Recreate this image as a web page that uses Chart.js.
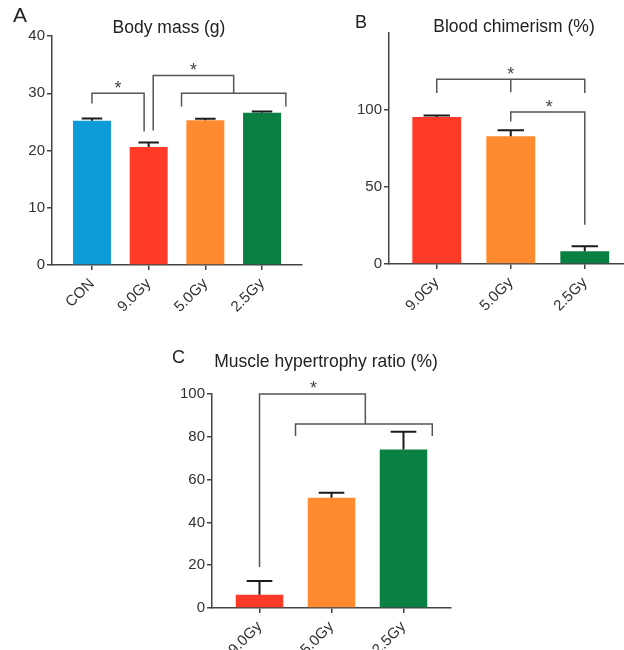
<!DOCTYPE html>
<html>
<head>
<meta charset="utf-8">
<script src="https://cdn.jsdelivr.net/npm/chart.js@4.4.1/dist/chart.umd.min.js"></script>
<style>
  body { margin: 0; background: #fff; width: 624px; height: 650px; position: relative; overflow: hidden;
         font-family: Arial, "Liberation Sans", sans-serif; color: #222; }
  canvas { position: absolute; }
  .lbl { position: absolute; white-space: nowrap; line-height: 1; }
  .ttl { position: absolute; white-space: nowrap; line-height: 1; font-size: 17.5px; transform: translateX(-50%); }
</style>
</head>
<body>
<canvas id="cA" width="310" height="320" style="left:0;top:0"></canvas>
<canvas id="cB" width="314" height="320" style="left:310px;top:0"></canvas>
<canvas id="cC" width="320" height="340" style="left:150px;top:310px"></canvas>

<div class="lbl" style="left:13px;top:4px;font-size:21px">A</div>
<div class="ttl" style="left:169px;top:19px">Body mass (g)</div>
<div class="lbl" style="left:355px;top:13px;font-size:18px">B</div>
<div class="ttl" style="left:514px;top:18px">Blood chimerism (%)</div>
<div class="lbl" style="left:172px;top:348px;font-size:18px">C</div>
<div class="ttl" style="left:326px;top:353px">Muscle hypertrophy ratio (%)</div>

<script>
// ---- data ----
const groupsA = ['CON', '9.0Gy', '5.0Gy', '2.5Gy'];
const massMean = [25.2, 20.6, 25.3, 26.6];
const massErr = [0.4, 0.8, 0.25, 0.2];

const groupsBC = ['9.0Gy', '5.0Gy', '2.5Gy'];
const chimMean = [95.5, 82.9, 8.2];
const chimErr = [1.0, 3.9, 3.3];

const hyperMean = [6.2, 51.5, 74.1];
const hyperErr = [6.4, 2.4, 8.3];

const colorsA = ['#0B9BD7', '#FF3B28', '#FF8A2F', '#0A8043'];
const colorsBC = ['#FF3B28', '#FF8A2F', '#0A8043'];

// significance brackets, in (group index, value) units
const bracketsA = [
  [[0, 28.2], [0, 30], [0.92, 30], [0.92, 23.3]],
  [[1.58, 27.7], [1.58, 30], [3.42, 30], [3.42, 27.7]],
  [[1.08, 23.5], [1.08, 33.1], [2.5, 33.1], [2.5, 30]]
];
const starsA = [[0.46, 31.4], [1.79, 34.6]];

const bracketsB = [
  [[0, 111], [0, 120], [2, 120], [2, 111]],
  [[1, 120], [1, 111.5]],
  [[1, 92.6], [1, 98.7], [2, 98.7], [2, 25.5]]
];
const starsB = [[1, 125], [1.52, 103.9]];

const bracketsC = [
  [[0, 19.2], [0, 100], [1.47, 100], [1.47, 86]],
  [[0.5, 80.4], [0.5, 86], [2.4, 86], [2.4, 80.4]]
];
const starsC = [[0.75, 104]];

Chart.defaults.font.family = 'Arial, "Liberation Sans", sans-serif';
Chart.defaults.color = '#333';

function annotate(errs, brackets, stars) {
  return {
    id: 'annotate',
    afterDatasetsDraw(chart) {
      const ctx = chart.ctx, xs = chart.scales.x, ys = chart.scales.y;
      const ds = chart.data.datasets[0];
      ctx.save();
      // error bars (upper half only)
      ctx.strokeStyle = '#1b1b1b';
      ctx.lineWidth = 2;
      chart.getDatasetMeta(0).data.forEach((bar, i) => {
        const top = ys.getPixelForValue(ds.data[i].y + errs[i]);
        const half = bar.width * 0.27;
        ctx.beginPath();
        ctx.moveTo(bar.x, bar.y);
        ctx.lineTo(bar.x, top);
        ctx.moveTo(bar.x - half, top);
        ctx.lineTo(bar.x + half, top);
        ctx.stroke();
      });
      // brackets
      ctx.strokeStyle = '#555';
      ctx.lineWidth = 1.5;
      brackets.forEach(pts => {
        ctx.beginPath();
        pts.forEach((p, k) => {
          const px = xs.getPixelForValue(p[0]), py = ys.getPixelForValue(p[1]);
          if (k) ctx.lineTo(px, py); else ctx.moveTo(px, py);
        });
        ctx.stroke();
      });
      ctx.fillStyle = '#444';
      ctx.font = '18px Arial, "Liberation Sans", sans-serif';
      ctx.textAlign = 'center';
      ctx.textBaseline = 'middle';
      stars.forEach(s => ctx.fillText('*', xs.getPixelForValue(s[0]), ys.getPixelForValue(s[1]) + 4));
      ctx.restore();
    }
  };
}

function barPanel(id, groups, means, errs, colors, y, x, fit, brackets, stars) {
  return new Chart(document.getElementById(id), {
    type: 'bar',
    data: {
      datasets: [{
        data: groups.map((g, i) => ({ x: i, y: means[i] })),
        backgroundColor: colors,
        borderWidth: 0,
        barPercentage: x.bar,
        categoryPercentage: 1
      }]
    },
    options: {
      responsive: false,
      animation: false,
      layout: { padding: { top: fit.top, right: fit.right, left: 0, bottom: 0 } },
      plugins: { legend: { display: false }, tooltip: { enabled: false } },
      scales: {
        x: {
          type: 'linear',
          min: x.min,
          max: x.max,
          offset: false,
          afterBuildTicks: s => { s.ticks = groups.map((g, i) => ({ value: i })); },
          afterFit: s => { s.height = fit.xh; },
          ticks: {
            autoSkip: false,
            minRotation: 45,
            maxRotation: 45,
            padding: 5,
            color: '#333',
            font: { size: 15 },
            callback: v => groups[v]
          },
          grid: { display: true, offset: false, drawOnChartArea: false, drawTicks: true, tickLength: 5, color: '#444', lineWidth: 1.5 },
          border: { display: true, color: '#444', width: 1.5 }
        },
        y: {
          min: 0,
          max: y.max,
          afterBuildTicks: s => { s.ticks = s.ticks.filter(t => t.value <= y.top); },
          afterFit: s => { s.width = fit.yw; },
          ticks: { stepSize: y.step, padding: 2, color: '#333', font: { size: 15 } },
          grid: { display: true, drawOnChartArea: false, drawTicks: true, tickLength: 5, color: '#444', lineWidth: 1.5 },
          border: { display: true, color: '#444', width: 1.5 }
        }
      }
    },
    plugins: [annotate(errs, brackets, stars)]
  });
}

barPanel('cA', groupsA, massMean, massErr, colorsA,
  { max: 40, step: 10, top: 40 },
  { min: -0.705, max: 3.705, bar: 0.67 },
  { top: 36, right: 8, xh: 55, yw: 52 },
  bracketsA, starsA);

barPanel('cB', groupsBC, chimMean, chimErr, colorsBC,
  { max: 150, step: 50, top: 100 },
  { min: -0.645, max: 2.53, bar: 0.66 },
  { top: 33, right: 0, xh: 56, yw: 79 },
  bracketsB, starsB);

barPanel('cC', groupsBC, hyperMean, hyperErr, colorsBC,
  { max: 100, step: 20, top: 100 },
  { min: -0.66, max: 2.66, bar: 0.66 },
  { top: 84, right: 19, xh: 42, yw: 62 },
  bracketsC, starsC);
</script>
</body>
</html>
